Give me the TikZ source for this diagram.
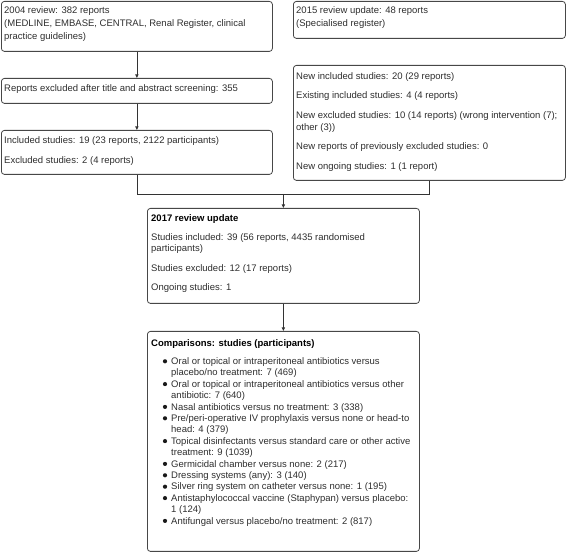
\documentclass[tikz,border=0pt]{standalone}
\usepackage{fontspec}
\setmainfont{Liberation Sans}
\usetikzlibrary{arrows.meta}
\begin{document}
\begin{tikzpicture}[x=1pt,y=-1pt,
  box/.style={draw=black!72, line width=0.8pt, rounded corners=3pt, inner sep=0pt, anchor=north west},
  txt/.style={anchor=base west, inner sep=0pt, font=\fontsize{9.5}{11.5}\selectfont, text=black!82},
  btxt/.style={txt, font=\fontsize{9.5}{11.5}\selectfont\bfseries, text=black},
  conn/.style={draw=black!80, line width=0.8pt},
  arr/.style={conn, -{Triangle[length=3.5pt,width=3.2pt]}},
  bul/.style={circle, fill=black!90, inner sep=0pt, minimum size=4.2pt}]
\useasboundingbox (0,0) rectangle (566,553);

% boxes
\node[box, minimum width=271pt, minimum height=50pt] (b1) at (1,1) {};
\node[box, minimum width=271pt, minimum height=25pt] (b2) at (1,78) {};
\node[box, minimum width=271pt, minimum height=44pt] (b3) at (1,130) {};
\node[box, minimum width=272pt, minimum height=37pt] (bA) at (293,1) {};
\node[box, minimum width=272pt, minimum height=115pt] (bB) at (293,65) {};
\node[box, minimum width=272pt, minimum height=95pt] (b17) at (147,208) {};
\node[box, minimum width=272pt, minimum height=220pt] (bC) at (147,331) {};

% box 1
\node[txt] (t1a) at (4,13.5) {2004 review: 382 reports};
\node[txt] (t1b) at (4,26.5) {(MEDLINE, EMBASE, CENTRAL, Renal Register, clinical};
\node[txt] (t1c) at (4,39.5) {practice guidelines)};
% box 2
\node[txt] (t2a) at (4,91.5) {Reports excluded after title and abstract screening: 355};
% box 3
\node[txt] (t3a) at (4,144) {Included studies: 19 (23 reports, 2122 participants)};
\node[txt] (t3b) at (4,163.5) {Excluded studies: 2 (4 reports)};
% box A
\node[txt] (tAa) at (296,13.5) {2015 review update: 48 reports};
\node[txt] (tAb) at (296,26.5) {(Specialised register)};
% box B
\node[txt] (tBa) at (296,79.5) {New included studies: 20 (29 reports)};
\node[txt] (tBb) at (296,99) {Existing included studies: 4 (4 reports)};
\node[txt] (tBc) at (296,118.5) {New excluded studies: 10 (14 reports) (wrong intervention (7);};
\node[txt] (tBd) at (296,130.5) {other (3))};
\node[txt] (tBe) at (296,150) {New reports of previously excluded studies: 0};
\node[txt] (tBf) at (296,169.5) {New ongoing studies: 1 (1 report)};
% 2017 box
\node[btxt] (tCa) at (151,221.5) {2017 review update};
\node[txt] (tCb) at (151,240.5) {Studies included: 39 (56 reports, 4435 randomised};
\node[txt] (tCc) at (151,252) {participants)};
\node[txt] (tCd) at (151,271.5) {Studies excluded: 12 (17 reports)};
\node[txt] (tCe) at (151,291) {Ongoing studies: 1};
% comparisons
\node[btxt] (tDa) at (151,346.5) {Comparisons: studies (participants)};
\node[txt] (l1) at (171,364.5) {Oral or topical or intraperitoneal antibiotics versus};
\node[txt] (l2) at (171,375.9) {placebo/no treatment: 7 (469)};
\node[txt] (l3) at (171,387.3) {Oral or topical or intraperitoneal antibiotics versus other};
\node[txt] (l4) at (171,398.7) {antibiotic: 7 (640)};
\node[txt] (l5) at (171,410.1) {Nasal antibiotics versus no treatment: 3 (338)};
\node[txt] (l6) at (171,421.5) {Pre/peri-operative IV prophylaxis versus none or head-to};
\node[txt] (l7) at (171,432.9) {head: 4 (379)};
\node[txt] (l8) at (171,444.3) {Topical disinfectants versus standard care or other active};
\node[txt] (l9) at (171,455.7) {treatment: 9 (1039)};
\node[txt] (l10) at (171,467.1) {Germicidal chamber versus none: 2 (217)};
\node[txt] (l11) at (171,478.5) {Dressing systems (any): 3 (140)};
\node[txt] (l12) at (171,489.9) {Silver ring system on catheter versus none: 1 (195)};
\node[txt] (l13) at (171,501.3) {Antistaphylococcal vaccine (Staphypan) versus placebo:};
\node[txt] (l14) at (171,512.7) {1 (124)};
\node[txt] (l15) at (171,524.1) {Antifungal versus placebo/no treatment: 2 (817)};
\foreach \l/\n in {l1/d1,l3/d2,l5/d3,l6/d4,l8/d5,l10/d6,l11/d7,l12/d8,l13/d9,l15/d10}
  \node[bul] (\n) at ([xshift=-6pt,yshift=3.2pt]\l.base west) {};

% connectors
\draw[arr] (b1.south) -- (b2.north);
\draw[arr] (b2.south) -- (b3.north);
\coordinate (jm) at (283,194);
\draw[conn] (b3.south) |- (bB.south |- jm) -- (bB.south);
\draw[arr] (b17.north |- jm) -- (b17.north);
\draw[arr] (b17.south) -- (bC.north);
\end{tikzpicture}
\end{document}
